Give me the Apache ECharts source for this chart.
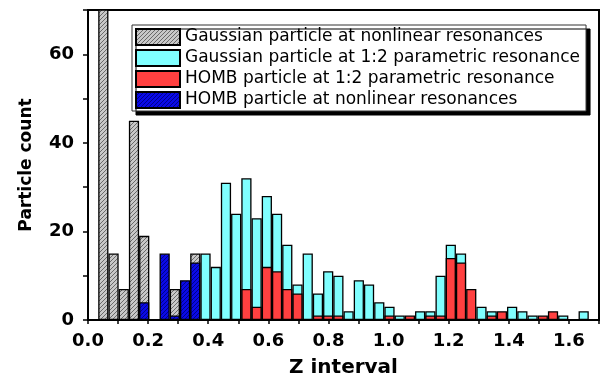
<!DOCTYPE html>
<html>
<head>
<meta charset="utf-8">
<script src="https://cdn.jsdelivr.net/npm/echarts@6/dist/echarts.min.js"></script>
<style>
  html, body { margin: 0; padding: 0; background: #fff; }
  #chart { width: 605px; height: 377px; }
</style>
</head>
<body>
<div id="chart"></div>
<script>
// Histogram of particle counts over Z, 50 bins of width 0.034 (Z = 0 … 1.7)
const binWidth = 0.034;
const binCount = 50;
const zMax = 1.7;

const seriesNames = [
  'Gaussian particle at nonlinear resonances',
  'Gaussian particle at 1:2 parametric resonance',
  'HOMB particle at 1:2 parametric resonance',
  'HOMB particle at nonlinear resonances'
];

const gaussianNonlinear = [
  0, 80, 15, 7, 45, 19, 0, 0, 7, 0,
  15, 0, 0, 0, 0, 0, 0, 0, 0, 0,
  0, 0, 0, 0, 0, 0, 0, 0, 0, 0,
  0, 0, 0, 0, 0, 0, 0, 0, 0, 0,
  0, 0, 0, 0, 0, 0, 0, 0, 0, 0
];

const gaussianParametric = [
  0, 0, 0, 0, 0, 0, 0, 0, 0, 0,
  0, 15, 12, 31, 24, 32, 23, 28, 24, 17,
  8, 15, 6, 11, 10, 2, 9, 8, 4, 3,
  1, 0, 2, 2, 10, 17, 15, 0, 3, 2,
  0, 3, 2, 1, 0, 0, 1, 0, 2, 0
];

const hombParametric = [
  0, 0, 0, 0, 0, 0, 0, 0, 0, 0,
  0, 0, 0, 0, 0, 7, 3, 12, 11, 7,
  6, 0, 1, 1, 1, 0, 0, 0, 0, 1,
  0, 1, 0, 1, 1, 14, 13, 7, 0, 1,
  2, 0, 0, 0, 1, 2, 0, 0, 0, 0
];

const hombNonlinear = [
  0, 0, 0, 0, 0, 4, 0, 15, 1, 9,
  13, 0, 0, 0, 0, 0, 0, 0, 0, 0,
  0, 0, 0, 0, 0, 0, 0, 0, 0, 0,
  0, 0, 0, 0, 0, 0, 0, 0, 0, 0,
  0, 0, 0, 0, 0, 0, 0, 0, 0, 0
];

// labelled ticks; the other ticks are drawn unlabelled
const xTickLabels = ['0.0', '0.2', '0.4', '0.6', '0.8', '1.0', '1.2', '1.4', '1.6'];
const yTickLabels = ['0', '20', '40', '60'];

// bin start values used as (hidden) category labels
const binStarts = Array.from({ length: binCount }, (_, i) => (i * binWidth).toFixed(3));

// diagonal hatch fill used for the "nonlinear resonances" bars
function hatch(bg, line, size) {
  const c = document.createElement('canvas');
  c.width = c.height = size;
  const g = c.getContext('2d');
  g.fillStyle = bg;
  g.fillRect(0, 0, size, size);
  g.strokeStyle = line;
  g.lineWidth = 1;
  g.beginPath();
  for (const o of [-size, 0, size]) {
    g.moveTo(o, size);
    g.lineTo(o + size, 0);
  }
  g.stroke();
  return { image: c, repeat: 'repeat' };
}

const fills = [
  hatch('#c8c8c8', '#6a6a6a', 4),
  '#80ffff',
  '#ff4040',
  hatch('#0a0ae6', '#00008c', 4)
];

const font = 'DejaVu Sans';

function barSeries(idx, values) {
  return {
    name: seriesNames[idx],
    type: 'bar',
    xAxisIndex: 1,
    yAxisIndex: 0,
    barWidth: '100%',
    barGap: '-100%',
    clip: true,
    z: 2 + idx,
    itemStyle: { color: fills[idx], borderColor: '#000', borderWidth: 1.3 },
    emphasis: { disabled: true },
    data: values.map(v => (v ? v : null))
  };
}

const chart = echarts.init(document.getElementById('chart'), null, { renderer: 'canvas' });

chart.setOption({
  animation: false,
  backgroundColor: '#fff',
  grid: {
    left: 88, right: 6, top: 10, bottom: 57,
    outerBoundsMode: 'none',
    containLabel: false,
    show: true, borderColor: '#000', borderWidth: 2, backgroundColor: 'transparent'
  },
  legend: {
    orient: 'vertical',
    left: 132,
    top: 25,
    data: seriesNames,
    icon: 'rect',
    itemWidth: 44,
    itemHeight: 16,
    itemGap: 3,
    padding: [3, 6, 2, 3],
    backgroundColor: '#fff',
    borderColor: '#333',
    borderWidth: 1,
    shadowColor: '#000',
    shadowBlur: 0,
    shadowOffsetX: 4,
    shadowOffsetY: 4,
    selectedMode: false,
    textStyle: { fontFamily: font, fontSize: 17, color: '#000', lineHeight: 16 }
  },
  xAxis: [
    {
      type: 'value',
      min: 0,
      max: zMax,
      interval: 0.1,
      name: 'Z interval',
      nameLocation: 'middle',
      nameGap: 38,
      nameTextStyle: { fontFamily: font, fontSize: 20, fontWeight: 'bold', color: '#000' },
      axisLine: { show: true, lineStyle: { color: '#000', width: 2 } },
      axisTick: { show: true, length: 4, lineStyle: { color: '#000', width: 1.5 } },
      axisLabel: {
        margin: 12,
        hideOverlap: false,
        fontFamily: font,
        fontSize: 18,
        fontWeight: 'bold',
        color: '#000',
        formatter: v => {
          const s = v.toFixed(1);
          return xTickLabels.includes(s) ? s : '';
        }
      },
      splitLine: { show: false }
    },
    {
      type: 'category',
      data: binStarts,
      boundaryGap: true,
      show: false
    }
  ],
  yAxis: {
    type: 'value',
    min: 0,
    max: 70,
    interval: 10,
    name: 'Particle count',
    nameLocation: 'middle',
    nameGap: 53,
    nameTextStyle: { fontFamily: font, fontSize: 17, fontWeight: 'bold', color: '#000' },
    axisLine: { show: true, lineStyle: { color: '#000', width: 2 } },
    axisTick: { show: true, length: 5, lineStyle: { color: '#000', width: 1.5 } },
    axisLabel: {
      margin: 14,
      hideOverlap: false,
      fontFamily: font,
      fontSize: 18,
      fontWeight: 'bold',
      color: '#000',
      formatter: v => {
        const s = String(v);
        return yTickLabels.includes(s) ? s : '';
      }
    },
    splitLine: { show: false }
  },
  series: [
    barSeries(0, gaussianNonlinear),
    barSeries(1, gaussianParametric),
    barSeries(2, hombParametric),
    barSeries(3, hombNonlinear)
  ]
});
</script>
</body>
</html>
